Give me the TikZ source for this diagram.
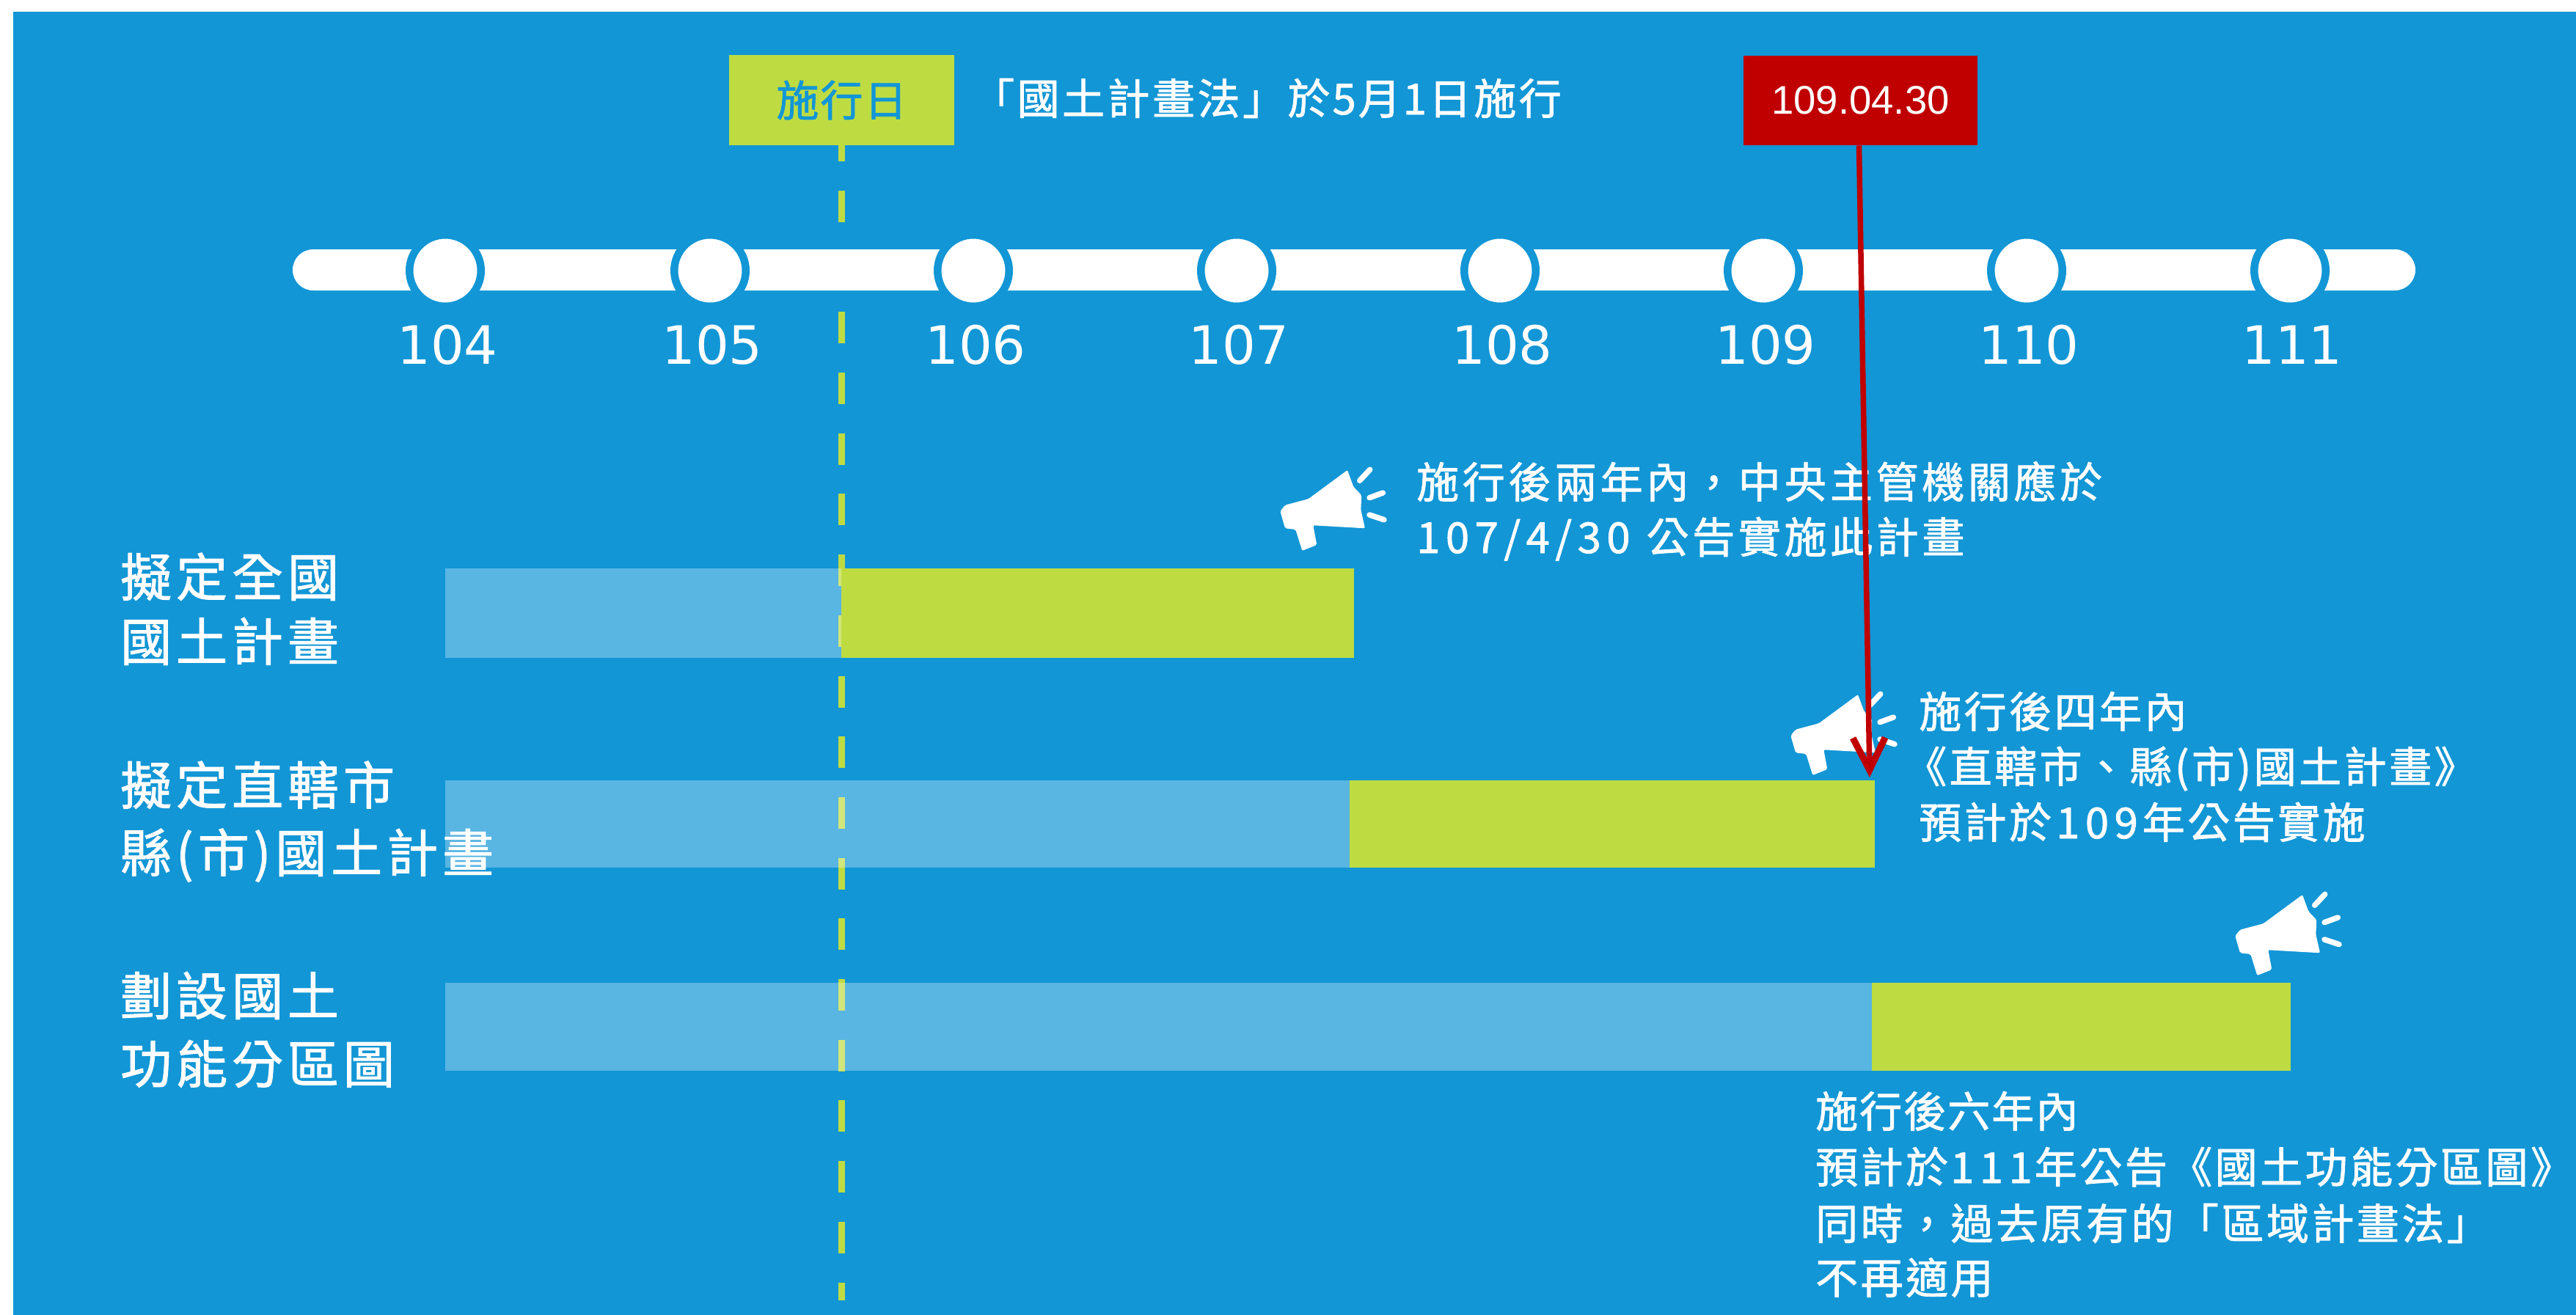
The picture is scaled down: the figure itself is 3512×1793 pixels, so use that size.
\documentclass[tikz,border=0pt]{standalone}
\usepackage{fontspec}
\usetikzlibrary{arrows.meta}
\newfontfamily\fontlaw[LetterSpace=6,FakeBold=1.4]{Noto Sans CJK TC}
\newfontfamily\fonta[LetterSpace=8,FakeBold=1.4]{Noto Sans CJK TC}
\newfontfamily\fontb[LetterSpace=6,FakeBold=1.4]{Noto Sans CJK TC}
\newfontfamily\fontc[LetterSpace=3.5,FakeBold=1.4]{Noto Sans CJK TC}
\newfontfamily\fontside[LetterSpace=8.5,FakeBold=1.4]{Noto Sans CJK TC}
\newfontfamily\fontdigit[LetterSpace=13,FakeBold=1.4]{Noto Sans CJK TC}
\newfontfamily\numfont{DejaVu Sans}
\setmainfont{Liberation Sans}
\newcommand{\dg}[1]{{\fontdigit #1}}
\definecolor{bgblue}{HTML}{1296D6}
\definecolor{limeg}{HTML}{BEDC42}
\definecolor{redc}{HTML}{C00000}
\tikzset{
  x=1pt,y=-1pt,
  plaintext/.style={text=white,inner sep=0pt,anchor=base west},
  lawtextstyle/.style={plaintext,font=\fontsize{58}{58}\selectfont\fontlaw},
  notea/.style={plaintext,font=\fontsize{58}{58}\selectfont\fonta},
  noteb/.style={plaintext,font=\fontsize{58}{58}\selectfont\fontb},
  notec/.style={plaintext,font=\fontsize{58}{58}\selectfont\fontc},
  sidetext/.style={plaintext,font=\fontsize{70}{70}\selectfont\fontside},
  yearlabel/.style={text=white,inner sep=0pt,anchor=center,font=\fontsize{72}{72}\selectfont\numfont},
  yeardot/.style={circle,fill=white,draw=bgblue,line width=10.5pt,minimum size=97.5pt,inner sep=0pt},
  greenbar/.style={fill=limeg,draw=none},
  palebar/.style={fill=white,fill opacity=.3,draw=none},
  dashline/.style={draw=limeg,line width=9pt,dash pattern=on 43pt off 39.7pt,dash phase=21pt},
  megaphone/.pic={
    \fill[white,rounded corners=2pt] (0,0)--(8.3,22.7)--(19.3,34.3)--(18.3,54.3)--(24,79.3)--(-46.7,75.3)--(-41.7,102)--(-61.7,110)--(-70.7,81)--(-85,79.3)--(-91.7,56)--(-85,47.7)--(-53.3,39.3)--cycle;
    \draw[white,line width=7.5pt,line cap=round] (16.7,14.3)--(30.7,-0.7) (30,37.7)--(48.3,31) (30,61)--(50,67.7);
  }
}
\begin{document}
\begin{tikzpicture}
\useasboundingbox (0,0) rectangle (3512,1793);
\fill[white] (0,0) rectangle (3512,1793);
\fill[bgblue] (18,16) rectangle (3512,1793);
% effective date box and dashed line
\node (effbox) [fill=limeg,minimum width=307pt,minimum height=123pt,inner sep=0pt,text=bgblue,font=\fontsize{58}{58}\selectfont\fontc] at (1147.5,136.5) {施行日};
\coordinate (dashend) at (1147.5,1773);
\draw[dashline] (effbox.south) -- (dashend);
% timeline
\fill[white,rounded corners=28pt] (399,340) rectangle (3293,396);
\foreach \nm/\px/\yr in {a/607/104,b/968/105,c/1327/106,d/1686/107,e/2045/108,f/2404/109,g/2763/110,h/3122/111}{
  \node (dot\nm) [yeardot] at (\px,369) {};
  \node (yr\nm) [yearlabel] at (\px+3,470) {\yr};
}
% bars
\fill[palebar] (607,775) rectangle (1147,897);
\fill[greenbar] (1147,775) rectangle (1846,897);
\fill[palebar] (607,1064) rectangle (1840,1183);
\fill[greenbar] (1840,1064) rectangle (2556,1183);
\fill[palebar] (607,1340) rectangle (2552,1460);
\fill[greenbar] (2552,1340) rectangle (3123,1460);
% megaphones
\pic at (1837,641) {megaphone};
\pic at (2533,947) {megaphone};
\pic at (3139,1220) {megaphone};
% texts
\node (lawtext) [lawtextstyle] at (1325,156) {「國土計畫法」於\hspace{3pt}\dg{5}\hspace{3pt}月\hspace{3pt}\dg{1}\hspace{3pt}日施行};
\node (l1a) [sidetext] at (164,813) {擬定全國};
\node (l1b) [sidetext] at (164,901) {國土計畫};
\node (l2a) [sidetext] at (164,1097) {擬定直轄市};
\node (l2b) [sidetext] at (164,1189) {縣(市)國土計畫};
\node (l3a) [sidetext] at (164,1384) {劃設國土};
\node (l3b) [sidetext] at (164,1477) {功能分區圖};
\node (n1a) [notea] at (1931,679) {施行後兩年內，中央主管機關應於};
\node (n1b) [notea] at (1931,754) {\dg{107/4/30}\hspace{22pt}公告實施此計畫};
\node (n2a) [noteb] at (2616,992) {施行後四年內};
\node (n2b) [noteb] at (2596,1067) {《直轄市、縣(市)國土計畫》};
\node (n2c) [noteb] at (2616,1143) {預計於\hspace{6pt}\dg{109}\hspace{6pt}年公告實施};
\node (n3a) [notec] at (2475,1537) {施行後六年內};
\node (n3b) [noteb] at (2475,1613) {預計於\hspace{3pt}\dg{111}\hspace{3pt}年公告《國土功能分區圖》};
\node (n3c) [noteb] at (2475,1690) {同時，過去原有的「區域計畫法」};
\node (n3d) [noteb] at (2475,1764) {不再適用};
% red box and arrow
\node (redbox) [fill=redc,minimum width=319pt,minimum height=122.5pt,inner sep=0pt,text=white,font=\fontsize{54.5}{54.5}\selectfont] at (2536.5,137) {109.04.30};
\coordinate (arrowend) at (2549,1060);
\draw[redc,line width=7.5pt,-{Straight Barb[length=44pt,width=44pt,line width=9pt]}] ([xshift=-2pt]redbox.south) -- (arrowend);
\end{tikzpicture}
\end{document}
